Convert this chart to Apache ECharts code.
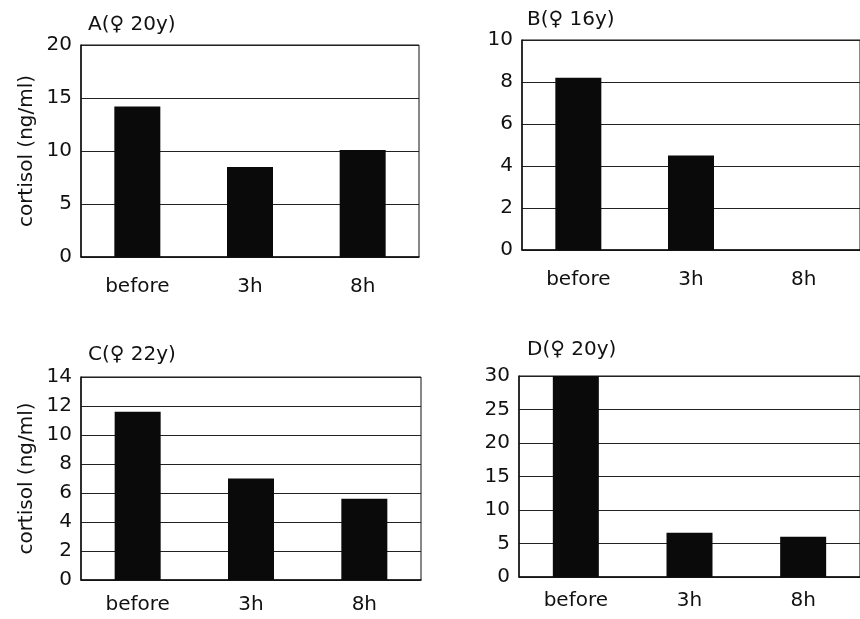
<!DOCTYPE html>
<html>
<head>
<meta charset="utf-8">
<script src="https://cdn.jsdelivr.net/npm/echarts@6/dist/echarts.min.js"></script>
<style>
  html, body { margin: 0; padding: 0; background: #fff; }
  #chart { width: 860px; height: 619px; }
</style>
</head>
<body>
<div id="chart"></div>
<script>
// Time points shared by all four subjects
const categories = ['before', '3h', '8h'];

// Salivary cortisol (ng/ml) per subject
const valuesA = [14.2, 8.5, 10.1];
const valuesB = [8.2, 4.5, null];
const valuesC = [11.6, 7.0, 5.6];
const valuesD = [30, 6.6, 6.0];

// Panel titles
const titles = ['A(♀ 20y)', 'B(♀ 16y)', 'C(♀ 22y)', 'D(♀ 20y)'];

// Y axis ranges per panel: [max, interval]
const yMax = [20, 10, 14, 30];
const yStep = [5, 2, 2, 5];

const yTitle = 'cortisol (ng/ml)';
const FONT = 'DejaVu Sans';
const FS = 20;
const INK = '#111';

const grids = [
  { left: 81, top: 45, width: 338, height: 212 },
  { left: 522, top: 40, width: 338, height: 210 },
  { left: 81, top: 377, width: 340, height: 203 },
  { left: 519, top: 376, width: 341, height: 201 }
];
const titlePos = [
  { left: 88, top: 15 },
  { left: 527, top: 10 },
  { left: 88, top: 345 },
  { left: 527, top: 340 }
];
const xMargin = [20, 20, 15, 14];
const seriesData = [valuesA, valuesB, valuesC, valuesD];

const option = {
  animation: false,
  backgroundColor: '#fff',
  title: titles.map((t, i) => ({
    text: t,
    left: titlePos[i].left,
    top: titlePos[i].top,
    padding: 0,
    textStyle: { fontFamily: FONT, fontSize: FS, fontWeight: 'normal', color: INK }
  })),
  grid: grids.map(g => Object.assign({ show: true, borderColor: INK, borderWidth: 1, backgroundColor: '#fff' }, g)),
  xAxis: grids.map((g, i) => ({
    type: 'category',
    gridIndex: i,
    data: categories,
    axisLine: { show: true, lineStyle: { color: INK, width: 1.5 } },
    axisTick: { show: false },
    axisLabel: { fontFamily: FONT, fontSize: FS, color: INK, margin: xMargin[i] },
    splitLine: { show: false }
  })),
  yAxis: grids.map((g, i) => ({
    type: 'value',
    gridIndex: i,
    min: 0,
    max: yMax[i],
    interval: yStep[i],
    name: (i === 0 || i === 2) ? yTitle : '',
    nameLocation: 'middle',
    nameGap: 44,
    nameTextStyle: { fontFamily: FONT, fontSize: FS, color: INK },
    axisLine: { show: true, lineStyle: { color: INK, width: 1.5 } },
    axisTick: { show: false },
    axisLabel: { fontFamily: FONT, fontSize: FS, color: INK, margin: 9 },
    splitLine: { show: true, lineStyle: { color: '#222', width: 1 } }
  })),
  series: seriesData.map((d, i) => ({
    type: 'bar',
    xAxisIndex: i,
    yAxisIndex: i,
    data: d,
    barWidth: 46,
    itemStyle: { color: '#0a0a0a' }
  }))
};

const chart = echarts.init(document.getElementById('chart'), null, { renderer: 'canvas' });
chart.setOption(option);
</script>
</body>
</html>
